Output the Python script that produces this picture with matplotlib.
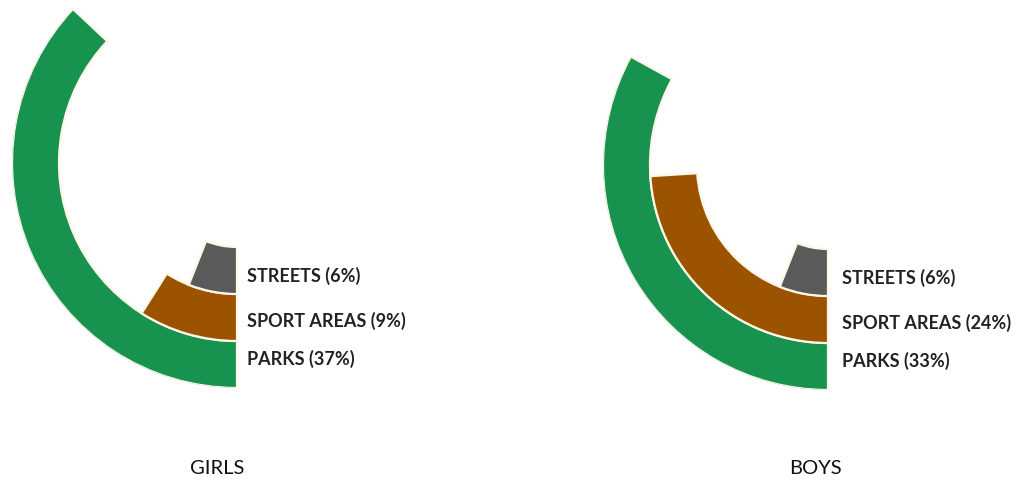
import numpy as np
import matplotlib
matplotlib.use("Agg")
import matplotlib.pyplot as plt

# ---- data ----
groups = ["GIRLS", "BOYS"]
categories = ["PARKS", "SPORT AREAS", "STREETS"]
girls_values = [37, 9, 6]
boys_values = [33, 24, 6]
colors = ["#17924f", "#9b5300", "#5a5a5a"]

plt.rcParams['font.family'] = ['Lato', 'DejaVu Sans']

W, H = 1019, 482
fig = plt.figure(figsize=(W / 100, H / 100), dpi=100)
fig.patch.set_facecolor("white")

R_OUT = 225.0
ring_w = 47.0
centers_px = [(237, 163), (828, 165)]
title_px = [(217, 468), (815, 468)]
label_dx_px = [10, 14]
label_dy_px = [6, -3, -5]   # vertical nudge per ring (px, positive = up)

for gi, (name, vals) in enumerate(zip(groups, [girls_values, boys_values])):
    cx, cy = centers_px[gi]
    left = (cx - R_OUT) / W
    bottom = (H - cy - R_OUT) / H
    ax = fig.add_axes([left, bottom, 2 * R_OUT / W, 2 * R_OUT / H], projection="polar")
    ax.set_theta_zero_location("S")
    ax.set_theta_direction(-1)
    ax.set_ylim(0, R_OUT)
    ax.axis("off")
    for i, (cat, v) in enumerate(zip(categories, vals)):
        r0 = R_OUT - ring_w * (i + 1)
        ax.bar(0, ring_w, width=v / 100 * 2 * np.pi, bottom=r0, align="edge",
               color=colors[i], edgecolor="#fff6e6", linewidth=1.6)
        rmid = r0 + ring_w / 2
        ax.annotate(f"{cat} ({v}%)", xy=(0, rmid),
                    xytext=(label_dx_px[gi] * 0.72, label_dy_px[i] * 0.72),
                    textcoords="offset points", ha="left", va="center",
                    fontsize=13, fontweight="bold", color="#222222",
                    annotation_clip=False)
    tx, ty = title_px[gi]
    fig.text(tx / W, 1 - ty / H, name, ha="center", va="center",
             fontsize=14.5, color="#111111")

fig.savefig("out.png", dpi=100, facecolor="white")
